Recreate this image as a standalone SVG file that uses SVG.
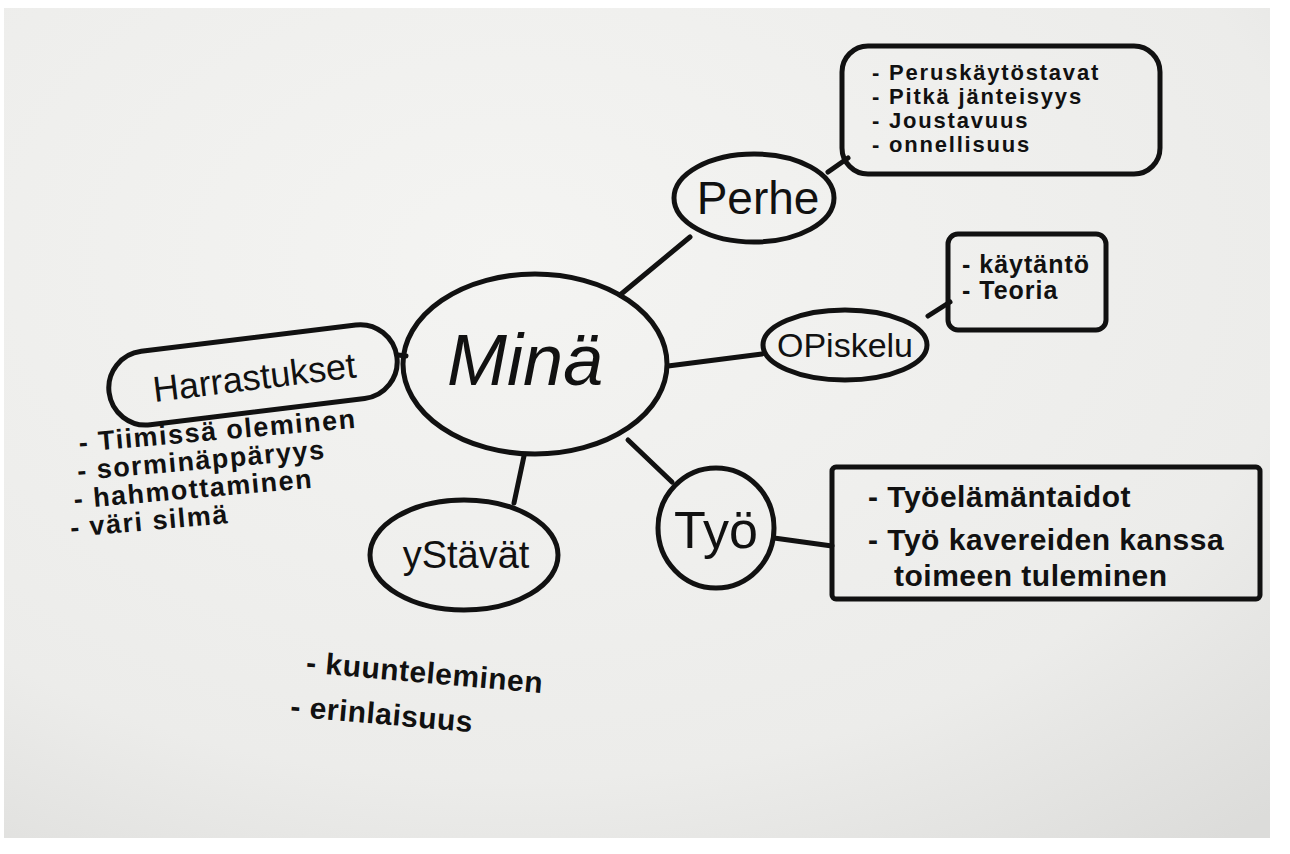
<svg xmlns="http://www.w3.org/2000/svg" width="1290" height="854" viewBox="0 0 1290 854">
<style>
.sh{fill:none;stroke:#111;stroke-width:5;stroke-linecap:round;stroke-linejoin:round}
.ln{fill:none;stroke:#111;stroke-width:5;stroke-linecap:round}
.t{font-family:"Liberation Sans","DejaVu Sans",sans-serif;font-weight:bold;fill:#111}
.nw{font-weight:normal}
.p{font-size:22px;letter-spacing:1.8px}
.o{font-size:25px;letter-spacing:1px}
.w{font-size:30px;letter-spacing:0.5px}
.h{font-size:27px;letter-spacing:1.5px}
.y{font-size:30px;letter-spacing:0.5px}
</style>
<defs>
<radialGradient id="paper" cx="0.4" cy="0.3" r="0.9">
<stop offset="0" stop-color="#f4f4f2"/>
<stop offset="0.7" stop-color="#ececea"/>
<stop offset="1" stop-color="#dcdcda"/>
</radialGradient>
</defs>
<rect width="1290" height="854" fill="#ffffff"/>
<rect x="4" y="8" width="1266" height="830" fill="url(#paper)"/>
<g id="connectors">
<path class="ln" d="M620 295 L690 237"/>
<path class="ln" d="M828 172 L848 158"/>
<path class="ln" d="M668 366 L762 354"/>
<path class="ln" d="M928 316 L950 302"/>
<path class="ln" d="M628 440 L672 482"/>
<path class="ln" d="M774 538 L832 546"/>
<path class="ln" d="M524 456 L514 503"/>
<path class="ln" d="M398 355 L406 356"/>
</g>
<g id="mina">
<ellipse class="sh" cx="535" cy="364" rx="132" ry="90"/>
<text class="t nw" x="525" y="385" font-size="72" font-style="italic" text-anchor="middle">Minä</text>
</g>
<g id="perhe">
<ellipse class="sh" cx="754" cy="198" rx="80" ry="44"/>
<text class="t nw" x="758" y="214" font-size="46" text-anchor="middle">Perhe</text>
</g>
<g id="perhe-list">
<rect class="sh" x="842" y="46" width="318" height="128" rx="26"/>
<text class="t p" x="872" y="80">- Peruskäytöstavat</text>
<text class="t p" x="872" y="104">- Pitkä jänteisyys</text>
<text class="t p" x="872" y="128">- Joustavuus</text>
<text class="t p" x="872" y="152">- onnellisuus</text>
</g>
<g id="opiskelu">
<ellipse class="sh" cx="845" cy="345" rx="82" ry="35"/>
<text class="t nw" x="845" y="357" font-size="34" text-anchor="middle">OPiskelu</text>
</g>
<g id="opiskelu-list">
<rect class="sh" x="948" y="234" width="158" height="96" rx="10"/>
<text class="t o" x="962" y="273">- käytäntö</text>
<text class="t o" x="962" y="299">- Teoria</text>
</g>
<g id="tyo">
<ellipse class="sh" cx="716" cy="528" rx="58" ry="60"/>
<text class="t nw" x="716" y="548" font-size="52" text-anchor="middle">Työ</text>
</g>
<g id="tyo-list">
<rect class="sh" x="832" y="467" width="428" height="132" rx="4"/>
<text class="t w" x="868" y="507">- Työelämäntaidot</text>
<text class="t w" x="868" y="550">- Työ kavereiden kanssa</text>
<text class="t w" x="894" y="586">toimeen tuleminen</text>
</g>
<g id="ystavat">
<ellipse class="sh" cx="464" cy="555" rx="94" ry="55"/>
<text class="t nw" x="466" y="568" font-size="38" text-anchor="middle">yStävät</text>
</g>
<g id="ystavat-list" transform="rotate(5 300 690)">
<text class="t y" x="304" y="672">- kuunteleminen</text>
<text class="t y" x="292" y="717">- erinlaisuus</text>
</g>
<g id="harrastukset" transform="rotate(-7 252 375)">
<rect class="sh" x="108" y="338" width="290" height="74" rx="37"/>
<text class="t nw" x="254" y="390" font-size="36" text-anchor="middle">Harrastukset</text>
</g>
<g id="harrastukset-list" transform="rotate(-5 80 480)">
<text class="t h" x="82" y="452">- Tiimissä oleminen</text>
<text class="t h" x="78" y="480">- sorminäppäryys</text>
<text class="t h" x="72" y="508">- hahmottaminen</text>
<text class="t h" x="66" y="536">- väri silmä</text>
</g>
</svg>
